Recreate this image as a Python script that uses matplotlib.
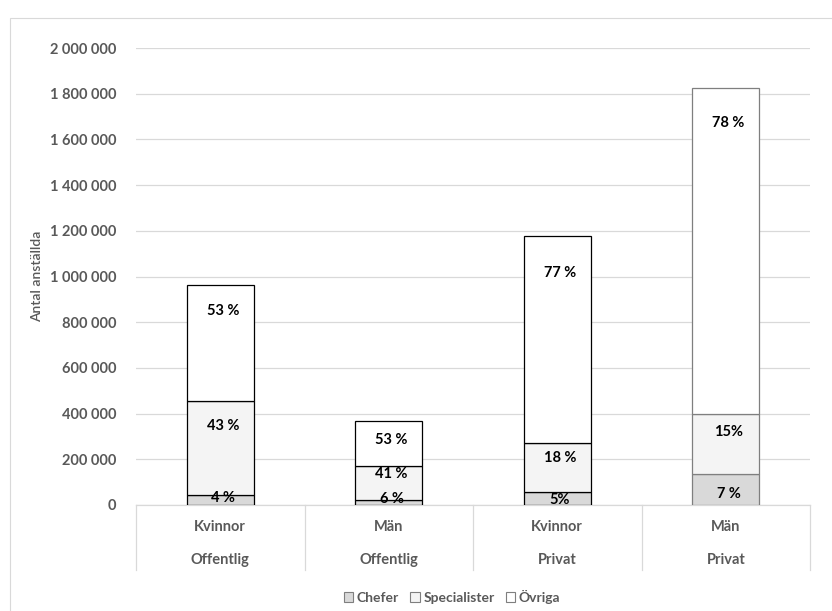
import matplotlib
matplotlib.use("Agg")
import matplotlib.pyplot as plt
import matplotlib.transforms as mtransforms
from matplotlib.patches import Patch, Rectangle

# data
groups = ["Kvinnor", "Män", "Kvinnor", "Män"]
sectors = ["Offentlig", "Offentlig", "Privat", "Privat"]
series_names = ["Chefer", "Specialister", "Övriga"]
chefer = [44000, 22000, 58000, 134000]
specialister = [411000, 149000, 215000, 266000]
ovriga = [509000, 195000, 904000, 1426000]
pct_chefer = ["4 %", "6 %", "5%", "7 %"]
pct_spec = ["43 %", "41 %", "18 %", "15%"]
pct_ovriga = ["53 %", "53 %", "77 %", "78 %"]

# style / layout
plt.rcParams["font.family"] = ["Lato", "DejaVu Sans"]
GRAY = "#595959"
FS = 10.5
fills = ["#d9d9d9", "#f4f4f4", "#ffffff"]
edges = ["black", "black", "black", "#7f7f7f"]
# label centre below each segment top, in pixels (chefer, spec, ovriga)
label_drop = [[3, 25, 26], [-1, 8, 19], [8, 15, 37], [20, 18, 35]]

W, H = 832, 611
fig = plt.figure(figsize=(W / 100, H / 100), dpi=100)
ax = fig.add_axes([136 / W, (H - 505) / H, (810 - 136) / W, (505 - 48) / H])

# outer chart border
fig.patches.append(Rectangle((10 / W, -0.1), 1.0, (H - 18) / H + 0.1, fill=False,
                             edgecolor="#d9d9d9", linewidth=0.8,
                             transform=fig.transFigure, figure=fig))

x = list(range(len(groups)))
bottom = [0] * len(x)
stack = [chefer, specialister, ovriga]
labels = [pct_chefer, pct_spec, pct_ovriga]
for s, vals in enumerate(stack):
    ax.bar(x, vals, bottom=bottom, width=0.4, color=fills[s],
           edgecolor=edges, linewidth=0.9, zorder=3)
    for i in x:
        top = bottom[i] + vals[i]
        ax.annotate(labels[s][i], xy=(i, top), xytext=(2, -label_drop[i][s] * 0.72),
                    textcoords="offset points", ha="center", va="center",
                    fontsize=FS, fontweight="bold", color="black", zorder=5)
    bottom = [b + v for b, v in zip(bottom, vals)]

ax.set_xlim(-0.5, 3.5)
ax.set_ylim(0, 2000000)
ax.set_yticks(range(0, 2000001, 200000))
ax.set_yticklabels([f"{v:,}".replace(",", " ") for v in range(0, 2000001, 200000)],
                   fontsize=FS, fontweight="bold", color=GRAY)
ax.tick_params(axis="y", length=0, pad=14)
ax.set_xticks([])
ax.grid(axis="y", color="#d9d9d9", linewidth=0.9, zorder=0)
for sp in ["top", "right", "left"]:
    ax.spines[sp].set_visible(False)
ax.spines["bottom"].set_color("#d9d9d9")
ax.spines["bottom"].set_linewidth(0.9)
ax.set_ylabel("Antal anställda", fontsize=10, color=GRAY, labelpad=5, fontweight="semibold")

# two-level category axis
blend = mtransforms.blended_transform_factory(ax.transData, ax.transAxes)
for xs in [-0.5, 0.5, 1.5, 2.5, 3.5]:
    ax.plot([xs, xs], [0, -65 / 457], transform=blend, color="#d9d9d9",
            linewidth=0.9, clip_on=False)
for i in x:
    ax.annotate(groups[i], xy=(i, 0), xycoords=blend, xytext=(0, -22 * 0.72),
                textcoords="offset points", ha="center", va="center",
                fontsize=FS, fontweight="bold", color=GRAY)
    ax.annotate(sectors[i], xy=(i, 0), xycoords=blend, xytext=(0, -55 * 0.72),
                textcoords="offset points", ha="center", va="center",
                fontsize=FS, fontweight="bold", color=GRAY)

handles = [Patch(facecolor=fills[k], edgecolor="#7f7f7f", linewidth=0.8) for k in range(3)]
leg = fig.legend(handles, series_names, loc="center", bbox_to_anchor=(452 / W, 1 - 597 / H),
                 ncol=3, frameon=False, handlelength=0.7, handleheight=0.7,
                 handletextpad=0.25, columnspacing=0.8, prop={"size": FS - 0.5, "weight": "bold"})
for t in leg.get_texts():
    t.set_color(GRAY)

fig.savefig("out.png", dpi=100)
